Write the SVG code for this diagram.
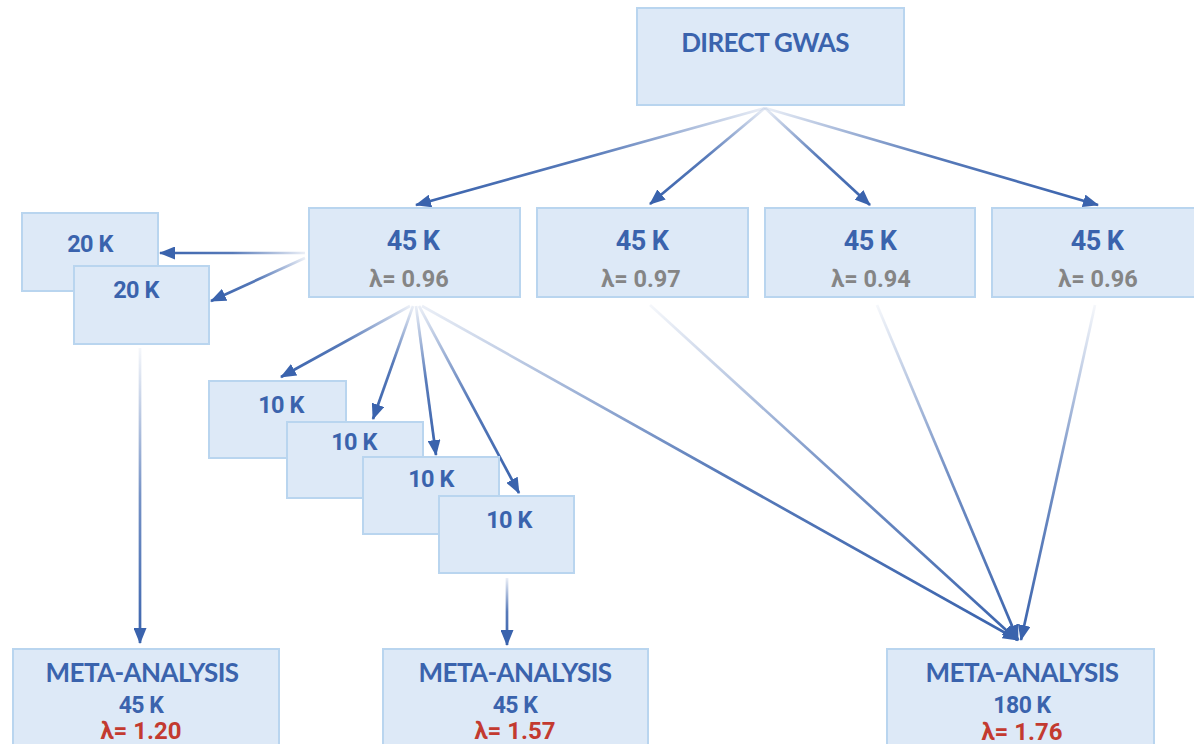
<svg xmlns="http://www.w3.org/2000/svg" width="1194" height="744" viewBox="0 0 1194 744">
<style>
.box{fill:#dde9f7;stroke:#b9d5ef;stroke-width:2}
.hd{font-family:Lato,"Noto Sans",sans-serif;font-weight:bold;fill:#3a63ad;text-anchor:middle}
.num{font-family:Roboto,"Noto Sans",sans-serif;font-weight:bold;fill:#3a63ad;text-anchor:middle}
.lg{font-family:Roboto,"Noto Sans",sans-serif;font-weight:bold;fill:#858585;text-anchor:middle;font-size:23.5px}
.lr{font-family:Roboto,"Noto Sans",sans-serif;font-weight:bold;fill:#c33a30;text-anchor:middle;font-size:24px}
.c{fill:none;stroke-width:2.7}
</style>
<defs>
<marker id="ah" markerUnits="userSpaceOnUse" markerWidth="16" markerHeight="13" refX="15" refY="6.5" orient="auto">
<path d="M0,0 L16,6.5 L0,13 z" fill="#3a63ad"/>
</marker>
<linearGradient id="g1" gradientUnits="userSpaceOnUse" x1="765" y1="108" x2="416" y2="205"><stop offset="0" stop-color="#3a63ad" stop-opacity="0.1"/><stop offset="0.5" stop-color="#3a63ad" stop-opacity="0.85"/><stop offset="1" stop-color="#3a63ad"/></linearGradient>
<linearGradient id="g2" gradientUnits="userSpaceOnUse" x1="765" y1="108" x2="650" y2="204"><stop offset="0" stop-color="#3a63ad" stop-opacity="0.1"/><stop offset="0.5" stop-color="#3a63ad" stop-opacity="0.85"/><stop offset="1" stop-color="#3a63ad"/></linearGradient>
<linearGradient id="g3" gradientUnits="userSpaceOnUse" x1="765" y1="108" x2="870" y2="205"><stop offset="0" stop-color="#3a63ad" stop-opacity="0.1"/><stop offset="0.5" stop-color="#3a63ad" stop-opacity="0.85"/><stop offset="1" stop-color="#3a63ad"/></linearGradient>
<linearGradient id="g4" gradientUnits="userSpaceOnUse" x1="765" y1="108" x2="1098" y2="205"><stop offset="0" stop-color="#3a63ad" stop-opacity="0.1"/><stop offset="0.5" stop-color="#3a63ad" stop-opacity="0.85"/><stop offset="1" stop-color="#3a63ad"/></linearGradient>
<linearGradient id="g5" gradientUnits="userSpaceOnUse" x1="305" y1="253" x2="160" y2="253"><stop offset="0" stop-color="#3a63ad" stop-opacity="0.1"/><stop offset="0.5" stop-color="#3a63ad" stop-opacity="0.85"/><stop offset="1" stop-color="#3a63ad"/></linearGradient>
<linearGradient id="g6" gradientUnits="userSpaceOnUse" x1="305" y1="258" x2="211" y2="301"><stop offset="0" stop-color="#3a63ad" stop-opacity="0.1"/><stop offset="0.5" stop-color="#3a63ad" stop-opacity="0.85"/><stop offset="1" stop-color="#3a63ad"/></linearGradient>
<linearGradient id="g7" gradientUnits="userSpaceOnUse" x1="410" y1="306" x2="281" y2="377"><stop offset="0" stop-color="#3a63ad" stop-opacity="0.1"/><stop offset="0.5" stop-color="#3a63ad" stop-opacity="0.85"/><stop offset="1" stop-color="#3a63ad"/></linearGradient>
<linearGradient id="g8" gradientUnits="userSpaceOnUse" x1="413" y1="306" x2="373" y2="419"><stop offset="0" stop-color="#3a63ad" stop-opacity="0.1"/><stop offset="0.5" stop-color="#3a63ad" stop-opacity="0.85"/><stop offset="1" stop-color="#3a63ad"/></linearGradient>
<linearGradient id="g9" gradientUnits="userSpaceOnUse" x1="416" y1="306" x2="436" y2="455"><stop offset="0" stop-color="#3a63ad" stop-opacity="0.1"/><stop offset="0.5" stop-color="#3a63ad" stop-opacity="0.85"/><stop offset="1" stop-color="#3a63ad"/></linearGradient>
<linearGradient id="g10" gradientUnits="userSpaceOnUse" x1="419" y1="306" x2="519" y2="493"><stop offset="0" stop-color="#3a63ad" stop-opacity="0.1"/><stop offset="0.5" stop-color="#3a63ad" stop-opacity="0.85"/><stop offset="1" stop-color="#3a63ad"/></linearGradient>
<linearGradient id="g11" gradientUnits="userSpaceOnUse" x1="422" y1="306" x2="1018" y2="640"><stop offset="0" stop-color="#3a63ad" stop-opacity="0.1"/><stop offset="0.5" stop-color="#3a63ad" stop-opacity="0.85"/><stop offset="1" stop-color="#3a63ad"/></linearGradient>
<linearGradient id="g12" gradientUnits="userSpaceOnUse" x1="650" y1="305" x2="1017" y2="640"><stop offset="0" stop-color="#3a63ad" stop-opacity="0.05"/><stop offset="0.5" stop-color="#3a63ad" stop-opacity="0.7"/><stop offset="1" stop-color="#3a63ad"/></linearGradient>
<linearGradient id="g13" gradientUnits="userSpaceOnUse" x1="877" y1="305" x2="1018" y2="640"><stop offset="0" stop-color="#3a63ad" stop-opacity="0.05"/><stop offset="0.5" stop-color="#3a63ad" stop-opacity="0.7"/><stop offset="1" stop-color="#3a63ad"/></linearGradient>
<linearGradient id="g14" gradientUnits="userSpaceOnUse" x1="1095" y1="305" x2="1021" y2="640"><stop offset="0" stop-color="#3a63ad" stop-opacity="0.05"/><stop offset="0.5" stop-color="#3a63ad" stop-opacity="0.7"/><stop offset="1" stop-color="#3a63ad"/></linearGradient>
<linearGradient id="g15" gradientUnits="userSpaceOnUse" x1="140" y1="348" x2="140" y2="643"><stop offset="0" stop-color="#3a63ad" stop-opacity="0.05"/><stop offset="0.5" stop-color="#3a63ad" stop-opacity="0.7"/><stop offset="1" stop-color="#3a63ad"/></linearGradient>
<linearGradient id="g16" gradientUnits="userSpaceOnUse" x1="507" y1="578" x2="507" y2="645"><stop offset="0" stop-color="#3a63ad" stop-opacity="0.1"/><stop offset="0.5" stop-color="#3a63ad" stop-opacity="0.85"/><stop offset="1" stop-color="#3a63ad"/></linearGradient>
</defs>

<g id="connectors">
<line class="c" x1="765" y1="108" x2="416" y2="205" stroke="url(#g1)" marker-end="url(#ah)"/>
<line class="c" x1="765" y1="108" x2="650" y2="204" stroke="url(#g2)" marker-end="url(#ah)"/>
<line class="c" x1="765" y1="108" x2="870" y2="205" stroke="url(#g3)" marker-end="url(#ah)"/>
<line class="c" x1="765" y1="108" x2="1098" y2="205" stroke="url(#g4)" marker-end="url(#ah)"/>
<line class="c" x1="305" y1="253" x2="160" y2="253" stroke="url(#g5)" marker-end="url(#ah)"/>
<line class="c" x1="305" y1="258" x2="211" y2="301" stroke="url(#g6)" marker-end="url(#ah)"/>
<line class="c" x1="410" y1="306" x2="281" y2="377" stroke="url(#g7)" marker-end="url(#ah)"/>
<line class="c" x1="413" y1="306" x2="373" y2="419" stroke="url(#g8)" marker-end="url(#ah)"/>
<line class="c" x1="416" y1="306" x2="436" y2="455" stroke="url(#g9)" marker-end="url(#ah)"/>
<line class="c" x1="419" y1="306" x2="519" y2="493" stroke="url(#g10)" marker-end="url(#ah)"/>
<line class="c" x1="422" y1="306" x2="1018" y2="640" stroke="url(#g11)" marker-end="url(#ah)"/>
<line class="c" x1="650" y1="305" x2="1017" y2="640" stroke="url(#g12)" marker-end="url(#ah)"/>
<line class="c" x1="877" y1="305" x2="1018" y2="640" stroke="url(#g13)" marker-end="url(#ah)"/>
<line class="c" x1="1095" y1="305" x2="1021" y2="640" stroke="url(#g14)" marker-end="url(#ah)"/>
<line class="c" x1="140" y1="348" x2="140" y2="643" stroke="url(#g15)" marker-end="url(#ah)"/>
<line class="c" x1="507" y1="578" x2="507" y2="645" stroke="url(#g16)" marker-end="url(#ah)"/>
</g>

<g id="direct-gwas">
<rect class="box" x="637" y="8" width="267" height="97"/>
<text class="hd" x="765" y="52" font-size="26" letter-spacing="-0.6">DIRECT GWAS</text>
</g>

<g id="gwas-1">
<rect class="box" x="309" y="208" width="211" height="89"/>
<text class="num" x="413" y="250" font-size="27" letter-spacing="-0.6">45 K</text>
<text class="lg" x="409" y="287">λ= 0.96</text>
</g>
<g id="gwas-2">
<rect class="box" x="537" y="208" width="211" height="89"/>
<text class="num" x="642" y="250" font-size="27" letter-spacing="-0.6">45 K</text>
<text class="lg" x="641" y="287">λ= 0.97</text>
</g>
<g id="gwas-3">
<rect class="box" x="765" y="208" width="210" height="89"/>
<text class="num" x="870" y="250" font-size="27" letter-spacing="-0.6">45 K</text>
<text class="lg" x="871" y="287">λ= 0.94</text>
</g>
<g id="gwas-4">
<rect class="box" x="992" y="208" width="210" height="89"/>
<text class="num" x="1097" y="250" font-size="27" letter-spacing="-0.6">45 K</text>
<text class="lg" x="1098" y="287">λ= 0.96</text>
</g>

<g id="split20-a">
<rect class="box" x="22" y="213" width="136" height="78"/>
<text class="num" x="90" y="252" font-size="23.5" letter-spacing="-0.5">20 K</text>
</g>
<g id="split20-b">
<rect class="box" x="74" y="266" width="135" height="78"/>
<text class="num" x="136" y="298" font-size="23.5" letter-spacing="-0.5">20 K</text>
</g>

<g id="split10-a">
<rect class="box" x="209" y="381" width="137" height="77"/>
<text class="num" x="281" y="413" font-size="23.5" letter-spacing="-0.5">10 K</text>
</g>
<g id="split10-b">
<rect class="box" x="287" y="422" width="136" height="76"/>
<text class="num" x="354" y="450" font-size="23.5" letter-spacing="-0.5">10 K</text>
</g>
<g id="split10-c">
<rect class="box" x="363" y="457" width="136" height="77"/>
<text class="num" x="431" y="487" font-size="23.5" letter-spacing="-0.5">10 K</text>
</g>
<g id="split10-d">
<rect class="box" x="439" y="496" width="135" height="77"/>
<text class="num" x="509" y="528" font-size="23.5" letter-spacing="-0.5">10 K</text>
</g>

<g id="meta-1">
<rect class="box" x="13" y="649" width="266" height="105"/>
<text class="hd" x="142" y="682" font-size="26" letter-spacing="-0.6">META-ANALYSIS</text>
<text class="num" x="141" y="713" font-size="23" letter-spacing="-0.5">45 K</text>
<text class="lr" x="141" y="739">λ= 1.20</text>
</g>
<g id="meta-2">
<rect class="box" x="383" y="649" width="265" height="105"/>
<text class="hd" x="515" y="682" font-size="26" letter-spacing="-0.6">META-ANALYSIS</text>
<text class="num" x="515" y="713" font-size="23" letter-spacing="-0.5">45 K</text>
<text class="lr" x="515" y="739">λ= 1.57</text>
</g>
<g id="meta-3">
<rect class="box" x="887" y="649" width="267" height="105"/>
<text class="hd" x="1022" y="682" font-size="26" letter-spacing="-0.6">META-ANALYSIS</text>
<text class="num" x="1022" y="713" font-size="23" letter-spacing="-0.5">180 K</text>
<text class="lr" x="1022" y="740">λ= 1.76</text>
</g>
</svg>
